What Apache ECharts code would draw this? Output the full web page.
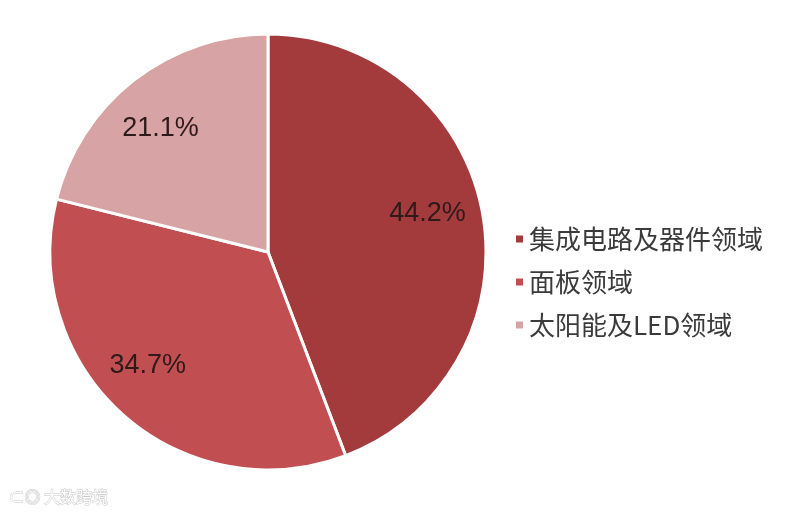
<!DOCTYPE html>
<html><head><meta charset="utf-8">
<script src="https://cdn.jsdelivr.net/npm/echarts@6/dist/echarts.min.js"></script>
<style>html,body{margin:0;padding:0;background:#fff}#c{width:800px;height:517px}</style>
</head><body><div id="c"></div>
<script>
const categories = ['集成电路及器件领域', '面板领域', '太阳能及LED领域'];
const values = [44.2, 34.7, 21.1];
const colors = ['#a33b3d', '#c14f52', '#d8a3a5'];
const labelNudge = [[0, 0], [-18, -15], [0, 0]];

const data = categories.map((n, i) => ({ name: n, value: values[i], itemStyle: { color: colors[i] } }));
const chart = echarts.init(document.getElementById('c'));
chart.setOption({
  animation: false,
  legend: {
    orient: 'vertical', left: 509, top: 221,
    itemWidth: 9, itemHeight: 9, itemGap: 17, icon: 'rect',
    textStyle: { fontSize: 26, color: '#3a3a3a', fontFamily: 'Noto Sans CJK SC' },
    data: categories
  },
  graphic: [{
    type: 'text', left: 8, top: 488,
    style: { text: '⊂◎ 大数跨境', fontSize: 16, fill: '#fff', stroke: '#c8c8c8', lineWidth: 1, fontFamily: 'Noto Sans CJK SC' }
  }],
  series: [{
    type: 'pie', center: [268, 252], radius: 218, startAngle: 90, clockwise: true,
    label: { show: false }, labelLine: { show: false },
    itemStyle: { borderColor: '#fff', borderWidth: 3 },
    data: data
  }, {
    type: 'pie', center: [268, 252], radius: [104, 218], startAngle: 93, clockwise: true,
    silent: true, legendHoverLink: false,
    itemStyle: { color: 'transparent', borderWidth: 0 },
    label: { show: true, position: 'inside', formatter: p => p.value.toFixed(1) + '%', fontSize: 27, color: '#2e1a1b', fontFamily: 'Liberation Sans' },
    labelLine: { show: false },
    data: categories.map((n, i) => ({ name: n + ' ', value: values[i], label: { offset: labelNudge[i] } }))
  }]
});
</script></body></html>
